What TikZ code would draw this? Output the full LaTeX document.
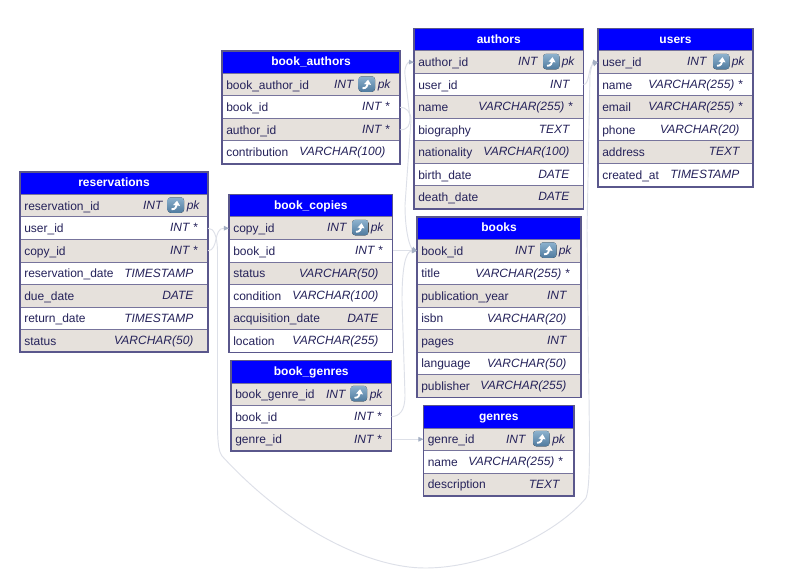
\documentclass[tikz,border=0pt]{standalone}
\usepackage{fontspec}
\setmainfont{Liberation Sans}
\usetikzlibrary{arrows.meta}
\definecolor{inkc}{HTML}{25225A}
\definecolor{edgec}{HTML}{77749C}
\definecolor{framec}{HTML}{5A578C}
\definecolor{altc}{HTML}{E6E1DC}
\definecolor{linkc}{HTML}{DDE0E8}
\definecolor{tipc}{HTML}{A4AFC3}
\definecolor{icona}{HTML}{8DB2CE}
\definecolor{iconb}{HTML}{4F7A9E}
\tikzset{
  x=0.75pt,y=-0.75pt,
  cell/.style={draw=edgec,line width=0.75pt,minimum height=16.9pt,inner sep=0pt,outer sep=0pt,anchor=north west},
  head/.style={cell,fill=blue,draw=none,minimum height=17.2pt,text=white,text height=7pt,text depth=1.7pt,font=\fontsize{9}{10}\selectfont\bfseries},
  greyrow/.style={cell,fill=altc},
  whiterow/.style={cell,fill=white},
  frame/.style={draw=framec,line width=1pt,fill=none},
  colname/.style={anchor=base west,inner sep=0pt,text=inkc,font=\fontsize{9}{10}\selectfont},
  coltype/.style={anchor=base east,inner sep=0pt,text=inkc,font=\fontsize{9}{10}\selectfont\itshape},
  link/.style={draw=linkc,line width=0.7pt},
  linktip/.style={link,-{Triangle[length=3.8pt,width=3.4pt,color=tipc]}},
  iconbox/.style={rounded corners=2.4pt,top color=icona,bottom color=iconb,draw=none},
}
% id, x0, y-top, x1, style, name, type, type right edge
\newcommand{\erow}[8]{%
  \pgfmathsetmacro{\cellw}{(#4-#2)*0.75}%
  \node[#5,minimum width=\cellw pt] (#1) at (#2,#3) {};
  \node[colname] (#1-n) at (#2+4,#3+15.7) {#6};
  \node[coltype] (#1-t) at (#8+0.7,#3+15) {#7};
}
% x-left, y-top of the row, x of the pk text
\newcommand{\pkmark}[3]{%
  \fill[iconbox] (#1,#2+2.8) rectangle (#1+16.5,#2+18.3);
  \draw[white,line width=1.4pt,-{Triangle[length=3.6pt,width=5pt]}] (#1+4,#2+14.8) .. controls (#1+8,#2+15.2) and (#1+9,#2+11.5) .. (#1+9.6,#2+6.2);
  \node[coltype,anchor=base west] at (#3,#2+15) {pk};
}
\newcommand{\etitle}[5]{%
  \pgfmathsetmacro{\cellw}{(#3-#2)*0.75}%
  \node[head,minimum width=\cellw pt] (#1) at (#2,#4) {#5};
}
\begin{document}
\begin{tikzpicture}
\useasboundingbox (0,0) rectangle (788,570);
\fill[white] (0,0) rectangle (788,570);

% ---------- reservations
\etitle{res}{20}{208}{172}{reservations}
\erow{res-id}{20}{172+22.5}{208}{greyrow}{reservation\_id}{INT}{162}
\erow{res-user}{20}{172+45}{208}{whiterow}{user\_id}{INT *}{197}
\erow{res-copy}{20}{172+67.5}{208}{greyrow}{copy\_id}{INT *}{197}
\erow{res-rd}{20}{172+90}{208}{whiterow}{reservation\_date}{TIMESTAMP}{193}
\erow{res-dd}{20}{172+112.5}{208}{greyrow}{due\_date}{DATE}{193}
\erow{res-ret}{20}{172+135}{208}{whiterow}{return\_date}{TIMESTAMP}{193}
\erow{res-st}{20}{172+157.5}{208}{greyrow}{status}{VARCHAR(50)}{193}
\pkmark{167.5}{194.5}{186.5}
\draw[frame] (20,172) rectangle (208,352);

% ---------- book_authors
\etitle{ba}{222}{400}{51}{book\_authors}
\erow{ba-id}{222}{51+22.5}{400}{greyrow}{book\_author\_id}{INT}{353}
\erow{ba-book}{222}{51+45}{400}{whiterow}{book\_id}{INT *}{389}
\erow{ba-auth}{222}{51+67.5}{400}{greyrow}{author\_id}{INT *}{389}
\erow{ba-con}{222}{51+90}{400}{whiterow}{contribution}{VARCHAR(100)}{385}
\pkmark{358.5}{73.5}{377.5}
\draw[frame] (222,51) rectangle (400,164);

% ---------- authors
\etitle{au}{414}{583.5}{28.5}{authors}
\erow{au-id}{414}{28.5+22.5}{583.5}{greyrow}{author\_id}{INT}{537}
\erow{au-user}{414}{28.5+45}{583.5}{whiterow}{user\_id}{INT}{569}
\erow{au-name}{414}{28.5+67.5}{583.5}{greyrow}{name}{VARCHAR(255) *}{572}
\erow{au-bio}{414}{28.5+90}{583.5}{whiterow}{biography}{TEXT}{569}
\erow{au-nat}{414}{28.5+112.5}{583.5}{greyrow}{nationality}{VARCHAR(100)}{569}
\erow{au-bd}{414}{28.5+135}{583.5}{whiterow}{birth\_date}{DATE}{569}
\erow{au-dd}{414}{28.5+157.5}{583.5}{greyrow}{death\_date}{DATE}{569}
\pkmark{543}{51}{561.5}
\draw[frame] (414,28.5) rectangle (583.5,209);

% ---------- users
\etitle{us}{598}{753}{28.5}{users}
\erow{us-id}{598}{28.5+22.5}{753}{greyrow}{user\_id}{INT}{706}
\erow{us-name}{598}{28.5+45}{753}{whiterow}{name}{VARCHAR(255) *}{742}
\erow{us-mail}{598}{28.5+67.5}{753}{greyrow}{email}{VARCHAR(255) *}{742}
\erow{us-ph}{598}{28.5+90}{753}{whiterow}{phone}{VARCHAR(20)}{739}
\erow{us-ad}{598}{28.5+112.5}{753}{greyrow}{address}{TEXT}{739}
\erow{us-cr}{598}{28.5+135}{753}{whiterow}{created\_at}{TIMESTAMP}{739}
\pkmark{713}{51}{731.5}
\draw[frame] (598,28.5) rectangle (753,187);

% ---------- book_copies
\etitle{bc}{229}{392.5}{194.5}{book\_copies}
\erow{bc-id}{229}{194.5+22.5}{392.5}{greyrow}{copy\_id}{INT}{346}
\erow{bc-book}{229}{194.5+45}{392.5}{whiterow}{book\_id}{INT *}{382}
\erow{bc-st}{229}{194.5+67.5}{392.5}{greyrow}{status}{VARCHAR(50)}{378}
\erow{bc-con}{229}{194.5+90}{392.5}{whiterow}{condition}{VARCHAR(100)}{378}
\erow{bc-acq}{229}{194.5+112.5}{392.5}{greyrow}{acquisition\_date}{DATE}{378}
\erow{bc-loc}{229}{194.5+135}{392.5}{whiterow}{location}{VARCHAR(255)}{378}
\pkmark{352}{217}{370.5}
\draw[frame] (229,194.5) rectangle (392.5,352.5);

% ---------- book_genres
\etitle{bg}{231}{391.5}{360.5}{book\_genres}
\erow{bg-id}{231}{360.5+22.5}{391.5}{greyrow}{book\_genre\_id}{INT}{345}
\erow{bg-book}{231}{360.5+45}{391.5}{whiterow}{book\_id}{INT *}{381}
\erow{bg-gen}{231}{360.5+67.5}{391.5}{greyrow}{genre\_id}{INT *}{381}
\pkmark{350.5}{383}{369.5}
\draw[frame] (231,360.5) rectangle (391.5,451);

% ---------- books
\etitle{bk}{417}{581}{217}{books}
\erow{bk-id}{417}{217+22.5}{581}{greyrow}{book\_id}{INT}{534}
\erow{bk-title}{417}{217+45}{581}{whiterow}{title}{VARCHAR(255) *}{569}
\erow{bk-yr}{417}{217+67.5}{581}{greyrow}{publication\_year}{INT}{566}
\erow{bk-isbn}{417}{217+90}{581}{whiterow}{isbn}{VARCHAR(20)}{566}
\erow{bk-pg}{417}{217+112.5}{581}{greyrow}{pages}{INT}{566}
\erow{bk-lang}{417}{217+135}{581}{whiterow}{language}{VARCHAR(50)}{566}
\erow{bk-pub}{417}{217+157.5}{581}{greyrow}{publisher}{VARCHAR(255)}{566}
\pkmark{540}{239.5}{558.5}
\draw[frame] (417,217) rectangle (581,397.5);

% ---------- genres
\etitle{ge}{423.5}{574}{405.5}{genres}
\erow{ge-id}{423.5}{405.5+22.5}{574}{greyrow}{genre\_id}{INT}{525}
\erow{ge-name}{423.5}{405.5+45}{574}{whiterow}{name}{VARCHAR(255) *}{562}
\erow{ge-desc}{423.5}{405.5+67.5}{574}{greyrow}{description}{TEXT}{559}
\pkmark{533}{428}{552}
\draw[frame] (423.5,405.5) rectangle (574,496);

% ---------- connectors
\draw[linktip] (res-copy.east) .. controls (219,250) and (213,228) .. (bc-id.west);
\draw[linktip] (res-user.east) .. controls (214,228) and (217,236) .. (217.5,250)
  -- (217.5,430) .. controls (218,445) and (219,452) .. (222,456)
  .. controls (290,530) and (370,568) .. (425,568)
  .. controls (490,568) and (560,530) .. (586,498)
  .. controls (589,490) and (589.5,470) .. (589.5,440)
  -- (587,230) -- (590,75) .. controls (591,67) and (593,62) .. (us-id.west);
\draw[linktip] (au-user.east) .. controls (590,84) and (588,66) .. (us-id.west);
\draw[linktip] (ba-auth.east) .. controls (408,130) and (410,125) .. (410,118)
  -- (405,75) .. controls (404,66) and (408,62) .. (au-id.west);
\draw[linktip] (ba-book.east) .. controls (406,107) and (411,112) .. (411,120)
  -- (405,205) .. controls (405,232) and (410,248) .. (bk-id.west);
\draw[linktip] (bc-book.east) -- (bk-id.west);
\draw[linktip] (bg-book.east) .. controls (399,416) and (405,412) .. (405,395)
  -- (402,300) .. controls (402,270) and (405,251) .. (bk-id.west);
\draw[linktip] (bg-gen.east) -- (ge-id.west);
\end{tikzpicture}
\end{document}
